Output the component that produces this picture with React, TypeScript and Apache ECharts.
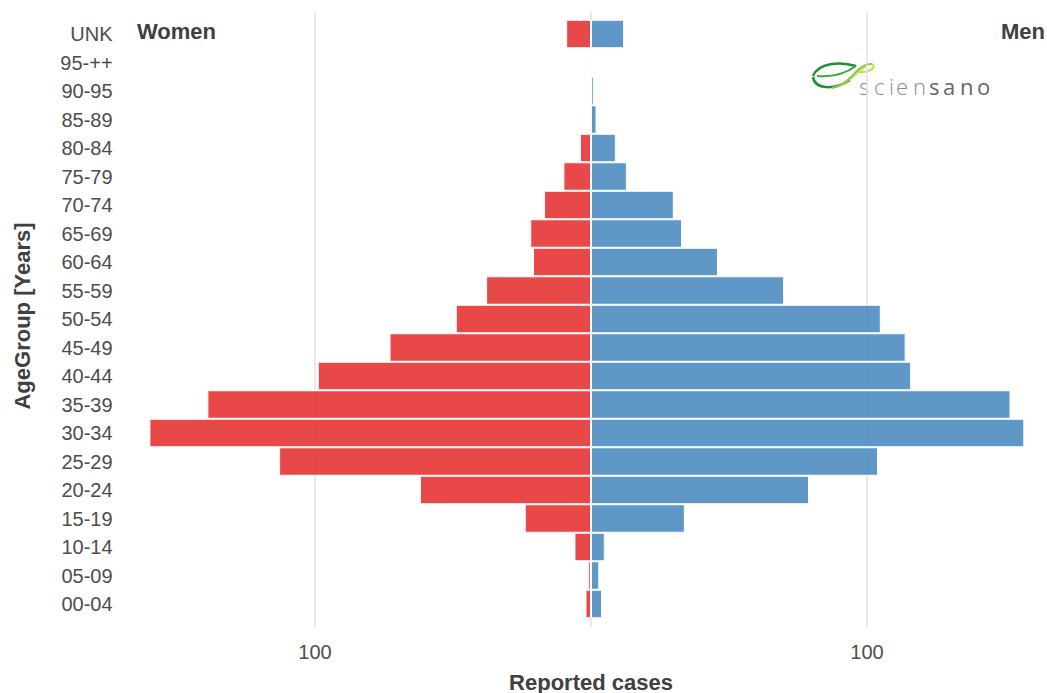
import React, { useEffect, useRef } from "react";
import * as echarts from "echarts";

const categories = ["00-04", "05-09", "10-14", "15-19", "20-24", "25-29", "30-34", "35-39", "40-44", "45-49", "50-54", "55-59", "60-64", "65-69", "70-74", "75-79", "80-84", "85-89", "90-95", "95-++", "UNK"];
const women = [2, 1, 6, 24, 62, 113, 160, 139, 99, 73, 49, 38, 21, 22, 17, 10, 4, 0, 0, 0, 9];
const men = [4, 3, 5, 34, 79, 104, 157, 152, 116, 114, 105, 70, 46, 33, 30, 13, 9, 2, 1, 0, 12];
const gridValues = [-100, 0, 100];
const labelValues = [-100, 100];

const FONT = "'Liberation Sans', Arial, Helvetica, sans-serif";

export default function App() {
  const ref = useRef<HTMLDivElement>(null);
  useEffect(() => {
    if (!ref.current) return;
    const chart = echarts.init(ref.current, undefined, { renderer: "svg" });
    const L = 135.6;
    const R = 0.6;
    const logoLetters = "sciensano".split("");
    const letterX = [859, 874, 889, 896, 913, 929, 943, 960, 977];
    const option: any = {
      animation: false,
      textStyle: { fontFamily: FONT },
      grid: [
        { left: L, right: R, top: 12, bottom: 66 },
        { left: L, right: R, top: 19.75, bottom: 74.75 },
      ],
      xAxis: [
        {
          gridIndex: 0, type: "value", min: -165, max: 165,
          axisLine: { show: false },
          axisTick: { show: false, customValues: gridValues },
          axisLabel: { show: false },
          splitLine: { show: true, lineStyle: { color: "#e2e2e2", width: 1.5 } },
        },
        {
          gridIndex: 1, type: "value", min: -165, max: 165,
          axisLine: { show: false },
          axisTick: { show: false, customValues: labelValues },
          axisLabel: {
            customValues: labelValues,
            formatter: (v: number) => String(Math.abs(v)),
            fontSize: 20, color: "#4d4d4d", margin: 24, fontFamily: FONT,
          },
          splitLine: { show: false },
        },
      ],
      yAxis: [
        { gridIndex: 0, type: "value", min: 0, max: 1, show: false },
        {
          gridIndex: 1, type: "category", data: categories,
          axisLine: { show: false }, axisTick: { show: false },
          axisLabel: { fontSize: 20, color: "#4d4d4d", margin: 23, fontFamily: FONT },
          splitLine: { show: false },
        },
      ],
      series: [
        {
          name: "Women", type: "bar", xAxisIndex: 1, yAxisIndex: 1, stack: "pop",
          barCategoryGap: "0%",
          data: women.map((v) => -v),
          itemStyle: { color: "rgba(228,26,28,0.8)", borderColor: "#ffffff", borderWidth: 1 },
        },
        {
          name: "Men", type: "bar", xAxisIndex: 1, yAxisIndex: 1, stack: "pop",
          barCategoryGap: "0%",
          data: men,
          itemStyle: { color: "rgba(55,126,184,0.8)", borderColor: "#ffffff", borderWidth: 1 },
        },
      ],
      graphic: [
        { type: "text", x: 137, y: 31, style: { text: "Women", font: `bold 22px ${FONT}`, fill: "#404040", textAlign: "left", textVerticalAlign: "middle" } },
        { type: "text", x: 1045, y: 31, style: { text: "Men", font: `bold 22px ${FONT}`, fill: "#404040", textAlign: "right", textVerticalAlign: "middle" } },
        { type: "text", x: 591, y: 682, style: { text: "Reported cases", font: `bold 22px ${FONT}`, fill: "#404040", textAlign: "center", textVerticalAlign: "middle" } },
        { type: "text", x: 22, y: 316, rotation: Math.PI / 2, style: { text: "AgeGroup [Years]", font: `bold 22px ${FONT}`, fill: "#404040", textAlign: "center", textVerticalAlign: "middle" } },
        // logo leaf
        { type: "bezierCurve", shape: { x1: 813, y1: 76, cpx1: 818, cpy1: 63, cpx2: 840, cpy2: 61, x2: 856, y2: 66 }, style: { stroke: "#1e9232", lineWidth: 2.5, fill: null } },
        { type: "bezierCurve", shape: { x1: 813, y1: 77, cpx1: 815, cpy1: 90, cpx2: 835, cpy2: 90, x2: 850, y2: 80 }, style: { stroke: "#1e9232", lineWidth: 2.5, fill: null } },
        { type: "bezierCurve", shape: { x1: 817, y1: 76, cpx1: 830, cpy1: 77, cpx2: 845, cpy2: 74, x2: 856, y2: 66 }, style: { stroke: "#3aa53a", lineWidth: 2, fill: null } },
        { type: "bezierCurve", shape: { x1: 832, y1: 88, cpx1: 850, cpy1: 86, cpx2: 858, cpy2: 62, x2: 872, y2: 64 }, style: { stroke: "#8cc63f", lineWidth: 2, fill: null } },
        { type: "bezierCurve", shape: { x1: 872, y1: 64, cpx1: 878, cpy1: 68, cpx2: 868, cpy2: 73, x2: 858, y2: 72 }, style: { stroke: "#c5dc3a", lineWidth: 2, fill: null } },
        { type: "bezierCurve", shape: { x1: 838, y1: 86, cpx1: 852, cpy1: 82, cpx2: 860, cpy2: 70, x2: 866, y2: 66 }, style: { stroke: "#b4d84a", lineWidth: 1.2, fill: null } },
        ...logoLetters.map((ch, i) => ({
          type: "text", x: letterX[i], y: 97,
          style: {
            text: ch,
            font: `${i >= 5 ? "normal" : "300"} 22px 'Open Sans', 'Noto Sans', sans-serif`,
            fill: i >= 5 ? "#666666" : "#8c8c8c",
            textAlign: "left", textVerticalAlign: "bottom",
          },
        })),
      ],
    };
    chart.setOption(option);
    return () => chart.dispose();
  }, []);
  return <div ref={ref} style={{ position: "absolute", left: 0, top: 0, width: 1047, height: 693 }} />;
}
